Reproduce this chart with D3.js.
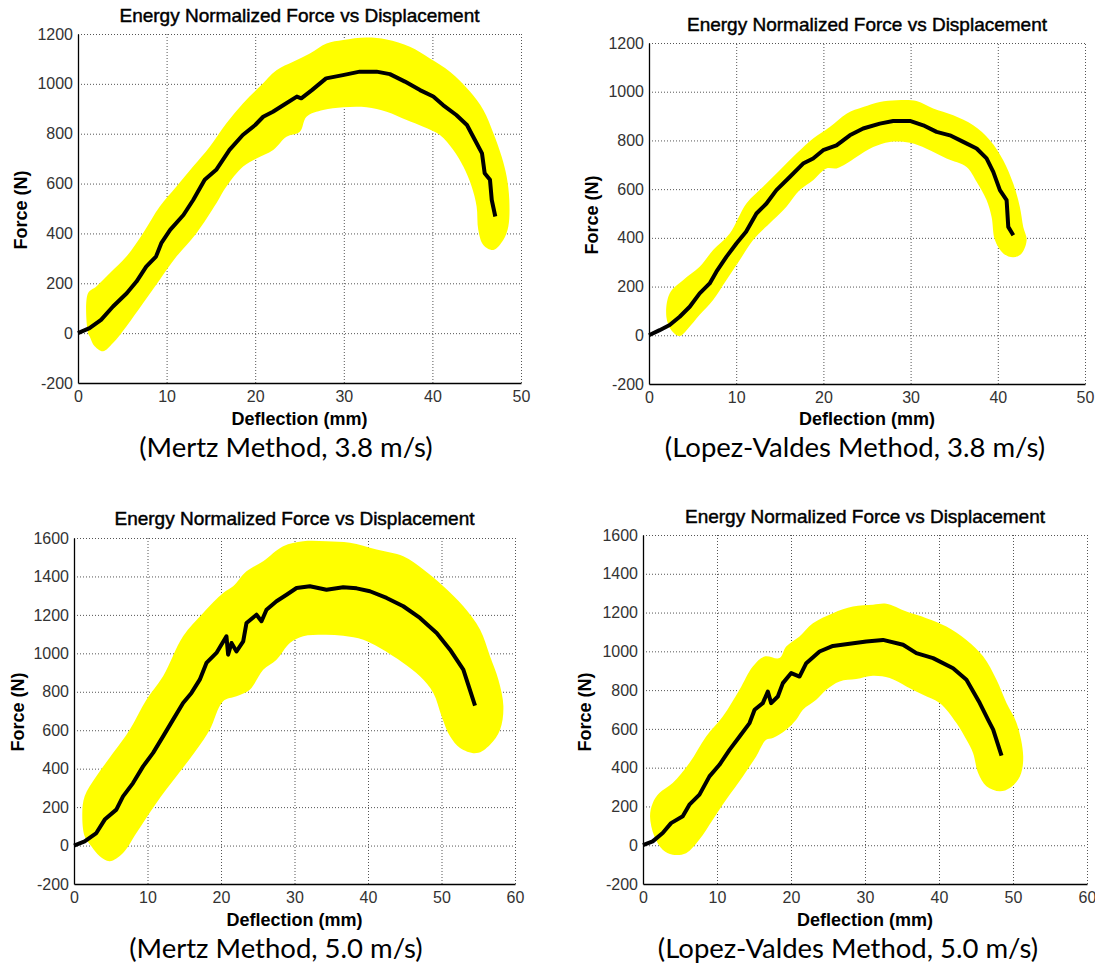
<!DOCTYPE html>
<html>
<head>
<meta charset="utf-8">
<script src="https://cdn.jsdelivr.net/npm/d3@7"></script>
<style>
  body { margin: 0; background: #fff; }
</style>
</head>
<body>
<div id="chart"></div>
<script>
// Tick values
const xTicks50 = [0, 10, 20, 30, 40, 50];
const xTicks60 = [0, 10, 20, 30, 40, 50, 60];
const yTicks1200 = [-200, 0, 200, 400, 600, 800, 1000, 1200];
const yTicks1600 = [-200, 0, 200, 400, 600, 800, 1000, 1200, 1400, 1600];

const titleText = "Energy Normalized Force vs Displacement";
const xLabelText = "Deflection (mm)";
const yLabelText = "Force (N)";
const captions = [
  "(Mertz Method, 3.8 m/s)",
  "(Lopez-Valdes Method, 3.8 m/s)",
  "(Mertz Method, 5.0 m/s)",
  "(Lopez-Valdes Method, 5.0 m/s)"
];

// Black curves: [deflection mm, force N]
const mertz38Line = [[0,0],[1.3,20],[2.6,53],[3.95,107],[5.5,160],[6.6,207],[7.7,267],[8.8,307],[9.4,361],[10.4,414],[11.9,474],[13.0,534],[14.3,615],[15.6,655],[17.1,735],[18.6,795],[20.0,835],[20.9,868],[22.0,888],[23.2,915],[24.7,949],[25.2,942],[26.4,975],[28.0,1022],[29.9,1035],[31.8,1049],[33.7,1049],[35.2,1039],[36.9,1009],[38.6,975],[40.1,949],[41.2,915],[42.7,875],[43.9,835],[44.8,775],[45.6,721],[45.9,641],[46.5,615],[46.7,534],[47.1,468]];
const lopez38Line = [[0,0],[1.22,21],[2.37,42],[3.52,76],[4.67,117],[5.81,172],[6.96,213],[7.73,261],[8.87,322],[10.02,377],[11.13,425],[12.32,500],[13.47,541],[14.61,596],[16.14,650],[17.67,705],[18.82,726],[19.97,760],[21.5,780],[23.03,821],[24.56,849],[26.47,869],[28.0,880],[29.92,880],[31.45,862],[32.98,835],[34.51,821],[36.04,794],[37.57,767],[38.71,726],[39.48,671],[40.24,596],[41.01,555],[41.2,445],[41.78,411]];
const mertz50Line = [[0,0],[1.45,22],[3.04,65],[4.18,135],[5.76,187],[6.67,256],[8.03,325],[9.4,412],[10.76,482],[12.12,568],[13.48,655],[14.84,742],[15.98,794],[17.11,863],[18.02,950],[19.38,1002],[20.74,1089],[20.97,993],[21.43,1054],[22.11,1010],[23.02,1062],[23.47,1158],[24.83,1201],[25.51,1167],[26.19,1227],[27.55,1271],[28.92,1305],[30.28,1340],[32.09,1349],[34.36,1331],[36.63,1344],[38.45,1338],[40.26,1323],[42.53,1288],[44.8,1245],[47.07,1184],[49.34,1106],[51.16,1019],[52.97,915],[54.56,728]];
const lopez50Line = [[0,0],[1.31,20],[2.66,63],[3.79,114],[5.37,149],[6.27,209],[7.63,261],[8.98,355],[10.33,415],[11.69,492],[13.05,561],[14.4,630],[15.08,699],[16.19,733],[16.87,793],[17.32,733],[18.22,767],[18.9,836],[20.03,888],[21.15,870],[22.06,939],[23.86,999],[25.67,1028],[27.92,1039],[30.18,1051],[32.43,1059],[35.14,1034],[36.94,991],[39.2,965],[41.9,913],[43.71,853],[45.51,733],[46.64,647],[47.32,596],[48.45,462]];

// Yellow highlighted corridors, outline points: [deflection mm, force N]
const mertz38Band = [[1.13,0],[1.13,160],[2.07,187],[3.58,240],[5.46,307],[7.34,401],[9.23,508],[11.11,588],[12.99,668],[14.87,748],[16.75,842],[18.64,922],[20.52,989],[22.4,1055],[24.28,1089],[26.17,1122],[28.05,1162],[29.93,1176],[32.57,1186],[34.83,1178],[37.46,1149],[39.72,1102],[41.98,1049],[44.24,969],[45.75,895],[46.88,802],[47.82,708],[48.38,628],[48.68,534],[48.57,428],[48.0,374],[46.88,334],[45.75,354],[45.18,414],[44.99,508],[44.43,588],[43.49,668],[42.36,735],[40.85,795],[38.97,828],[37.09,855],[34.83,888],[32.57,906],[29.93,906],[27.67,895],[25.79,868],[25.04,808],[23.53,788],[22.03,735],[20.14,701],[18.64,668],[16.75,588],[15.62,521],[13.37,401],[11.11,307],[9.23,214],[7.34,120],[5.46,27],[3.95,-40],[2.82,-73],[1.88,-53],[1.32,-13]];
const lopez38Band = [[1.99,76],[2.37,172],[3.9,226],[5.81,281],[7.35,350],[9.26,418],[11.17,541],[13.08,610],[14.99,678],[16.91,746],[18.82,808],[20.73,855],[22.65,910],[24.56,937],[26.47,958],[28.39,965],[30.68,962],[32.59,931],[34.89,903],[37.18,862],[39.09,801],[40.62,719],[41.77,623],[42.53,527],[42.92,445],[43.31,391],[42.73,336],[41.77,320],[40.63,336],[39.67,391],[39.29,486],[38.71,555],[37.57,630],[36.42,691],[34.12,726],[31.83,766],[29.92,790],[27.62,794],[25.71,773],[23.79,732],[22.65,705],[21.5,685],[20.35,685],[18.82,637],[17.29,596],[15.76,528],[14.23,473],[11.94,391],[10.41,309],[8.88,227],[7.35,145],[5.81,84],[4.48,28],[3.52,-3],[2.56,21]];
const mertz50Band = [[1.13,169],[1.45,256],[3.04,360],[5.31,481],[7.58,603],[9.85,759],[12.12,881],[14.84,1089],[17.57,1210],[20.29,1314],[21.65,1349],[23.47,1427],[25.74,1479],[28.46,1557],[31.18,1583],[34.36,1583],[37.54,1575],[41.17,1540],[44.8,1505],[47.53,1436],[50.25,1349],[52.97,1245],[55.24,1124],[56.6,985],[57.74,863],[58.42,725],[57.97,603],[56.6,525],[54.79,481],[52.52,508],[51.16,568],[50.02,672],[48.89,794],[47.07,881],[44.8,950],[41.63,1028],[39.36,1071],[36.63,1092],[33.91,1097],[31.18,1089],[29.37,1054],[27.55,967],[25.74,915],[23.92,811],[22.11,777],[20.29,751],[18.47,603],[16.66,499],[13.94,360],[11.21,222],[8.49,65],[6.67,-39],[4.86,-82],[3.5,-56],[2.36,-4],[1.45,48]];
const lopez50Band = [[0.95,149],[1.31,217],[2.21,269],[4.01,321],[6.27,424],[8.53,561],[10.78,664],[13.04,802],[14.84,922],[16.42,973],[18.45,965],[19.35,1025],[21.15,1077],[22.96,1145],[25.67,1197],[28.37,1231],[31.08,1240],[32.88,1245],[35.59,1205],[38.29,1171],[41.0,1128],[43.7,1059],[45.96,974],[47.77,853],[49.12,733],[50.48,630],[51.38,458],[50.93,355],[49.57,295],[48.22,278],[46.41,304],[45.29,372],[44.61,475],[43.71,544],[42.35,630],[40.1,733],[37.84,776],[35.59,819],[33.33,862],[31.08,874],[28.82,857],[26.57,845],[24.76,802],[23.41,750],[21.61,699],[20.7,647],[19.35,596],[17.55,553],[16.64,544],[15.29,458],[13.49,355],[11.23,235],[9.43,132],[7.62,29],[5.82,-41],[4.01,-49],[2.66,-23],[1.53,46]];

// Panel layout (pixel boxes of each plot area)
const panels = [
  { left: 78, right: 521, top: 34, bottom: 383, xTicks: xTicks50, yTicks: yTicks1200,
    line: mertz38Line, band: mertz38Band, caption: captions[0],
    titleY: 22, xLabelY: 425, yLabelX: 27, yLabelY: 210, capX: 286, capY: 457 },
  { left: 649, right: 1085, top: 43, bottom: 384, xTicks: xTicks50, yTicks: yTicks1200,
    line: lopez38Line, band: lopez38Band, caption: captions[1],
    titleY: 30.5, xLabelY: 425, yLabelX: 598, yLabelY: 215, capX: 855, capY: 457 },
  { left: 74, right: 515, top: 538, bottom: 884, xTicks: xTicks60, yTicks: yTicks1600,
    line: mertz50Line, band: mertz50Band, caption: captions[2],
    titleY: 525, xLabelY: 926, yLabelX: 24, yLabelY: 712, capX: 276, capY: 958 },
  { left: 643, right: 1087, top: 535, bottom: 884, xTicks: xTicks60, yTicks: yTicks1600,
    line: lopez50Line, band: lopez50Band, caption: captions[3],
    titleY: 523, xLabelY: 926, yLabelX: 591, yLabelY: 712, capX: 848, capY: 958 }
];

const svg = d3.select("#chart")
  .append("svg")
  .attr("width", 1095)
  .attr("height", 965)
  .style("background", "#fff");

const axisFont = "'Liberation Sans', Arial, Helvetica, sans-serif";
const plainNumber = function (d) { return String(d); };

panels.forEach(function (p) {
  const g = svg.append("g");
  const xMax = p.xTicks[p.xTicks.length - 1];
  const yMin = p.yTicks[0];
  const yMax = p.yTicks[p.yTicks.length - 1];

  const x = d3.scaleLinear().domain([0, xMax]).range([p.left, p.right]);
  const y = d3.scaleLinear().domain([yMin, yMax]).range([p.bottom, p.top]);

  // Dotted grid
  const gridX = g.append("g")
    .attr("transform", "translate(0," + p.bottom + ")")
    .call(d3.axisBottom(x).tickValues(p.xTicks.slice(1)).tickSize(-(p.bottom - p.top)).tickFormat(""));
  const gridY = g.append("g")
    .attr("transform", "translate(" + p.left + ",0)")
    .call(d3.axisLeft(y).tickValues(p.yTicks.slice(1)).tickSize(-(p.right - p.left)).tickFormat(""));
  [gridX, gridY].forEach(function (gr) {
    gr.select(".domain").remove();
    gr.selectAll("line")
      .attr("stroke", "#555")
      .attr("stroke-width", 1)
      .attr("stroke-dasharray", "1,2");
  });

  // Yellow highlight
  g.append("path")
    .datum(p.band)
    .attr("d", d3.line()
      .x(function (d) { return x(d[0]); })
      .y(function (d) { return y(d[1]); })
      .curve(d3.curveCatmullRomClosed.alpha(0.5)))
    .attr("fill", "#ffff00")
    .attr("stroke", "none");

  // Force-deflection curve
  g.append("path")
    .datum(p.line)
    .attr("d", d3.line()
      .x(function (d) { return x(d[0]); })
      .y(function (d) { return y(d[1]); }))
    .attr("fill", "none")
    .attr("stroke", "#000")
    .attr("stroke-width", 4)
    .attr("stroke-linejoin", "round");

  // Axes
  const xAxis = g.append("g")
    .attr("transform", "translate(0," + p.bottom + ")")
    .call(d3.axisBottom(x).tickValues(p.xTicks).tickFormat(plainNumber).tickSize(0).tickPadding(8));
  const yAxis = g.append("g")
    .attr("transform", "translate(" + p.left + ",0)")
    .call(d3.axisLeft(y).tickValues(p.yTicks).tickFormat(plainNumber).tickSize(0).tickPadding(5));
  [xAxis, yAxis].forEach(function (ax) {
    ax.attr("font-family", axisFont).attr("font-size", 16);
    ax.select(".domain").attr("stroke", "#000").attr("stroke-width", 1.3);
    ax.selectAll("text").attr("fill", "#333");
  });

  // Title
  g.append("text")
    .attr("x", (p.left + p.right) / 2)
    .attr("y", p.titleY)
    .attr("text-anchor", "middle")
    .style("font-family", axisFont)
    .style("font-size", "19px")
    .style("fill", "#000")
    .style("stroke", "#000")
    .style("stroke-width", 0.45)
    .text(titleText);

  // Axis labels
  g.append("text")
    .attr("x", (p.left + p.right) / 2)
    .attr("y", p.xLabelY)
    .attr("text-anchor", "middle")
    .style("font-family", axisFont)
    .style("font-size", "18px")
    .style("font-weight", "bold")
    .style("fill", "#000")
    .text(xLabelText);

  g.append("text")
    .attr("transform", "translate(" + p.yLabelX + "," + p.yLabelY + ") rotate(-90)")
    .attr("text-anchor", "middle")
    .style("font-family", axisFont)
    .style("font-size", "18px")
    .style("font-weight", "bold")
    .style("fill", "#000")
    .text(yLabelText);

  // Caption below the plot
  g.append("text")
    .attr("x", p.capX)
    .attr("y", p.capY)
    .attr("text-anchor", "middle")
    .style("font-family", "Lato, 'Open Sans', sans-serif")
    .style("font-size", "27.5px")
    .style("fill", "#000")
    .text(p.caption);
});
</script>
</body>
</html>
